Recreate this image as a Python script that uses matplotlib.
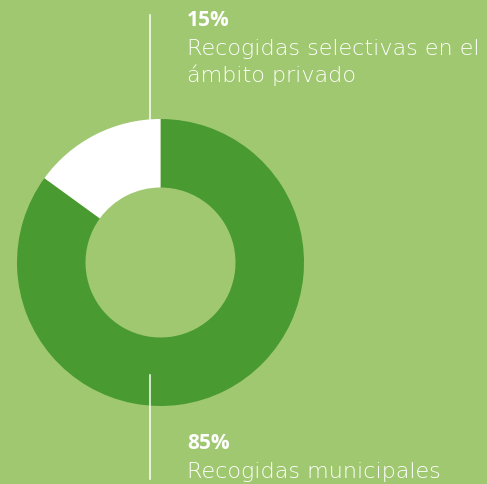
import matplotlib
matplotlib.use("Agg")
import matplotlib.pyplot as plt

labels = ["Recogidas municipales", "Recogidas selectivas en el\námbito privado"]
values = [85, 15]
pct_labels = ["85%", "15%"]
colors = ["#489A31", "#FFFFFF"]
bg = "#A0C870"

W, H = 487, 484
fig = plt.figure(figsize=(W / 100, H / 100), dpi=100, facecolor=bg)
ax = fig.add_axes([0, 0, 1, 1])
ax.set_facecolor(bg)

cx, cy, r_out, r_in = 160.5, H - 262.5, 143.5, 75
ax.pie(values, colors=colors, startangle=90, counterclock=False,
       center=(cx, cy), radius=r_out, frame=True,
       wedgeprops=dict(width=r_out - r_in, linewidth=0))
ax.set_xlim(0, W)
ax.set_ylim(0, H)
ax.axis("off")
ax.set_aspect("equal")

# leader lines
ax.plot([150, 150], [H - 15, H - 119], color="white", lw=1.2, alpha=0.9)
ax.plot([150, 150], [H - 375, H - 479], color="white", lw=1.2, alpha=0.9)

pct_kw = dict(color="white", fontsize=15, fontweight=700, family="Open Sans",
              va="baseline", ha="left")
lbl_kw = dict(color="white", fontsize=16, fontweight=200, family="DejaVu Sans",
              va="baseline", ha="left")

top_lines = labels[1].split("\n")
ax.text(187, H - 26, pct_labels[1], **pct_kw)
ax.text(187, H - 55, top_lines[0], **lbl_kw)
ax.text(187, H - 82, top_lines[1], **lbl_kw)

ax.text(187, H - 449, pct_labels[0], **pct_kw)
ax.text(187, H - 478, labels[0], **lbl_kw)

fig.savefig("out.png", dpi=100, facecolor=bg)
